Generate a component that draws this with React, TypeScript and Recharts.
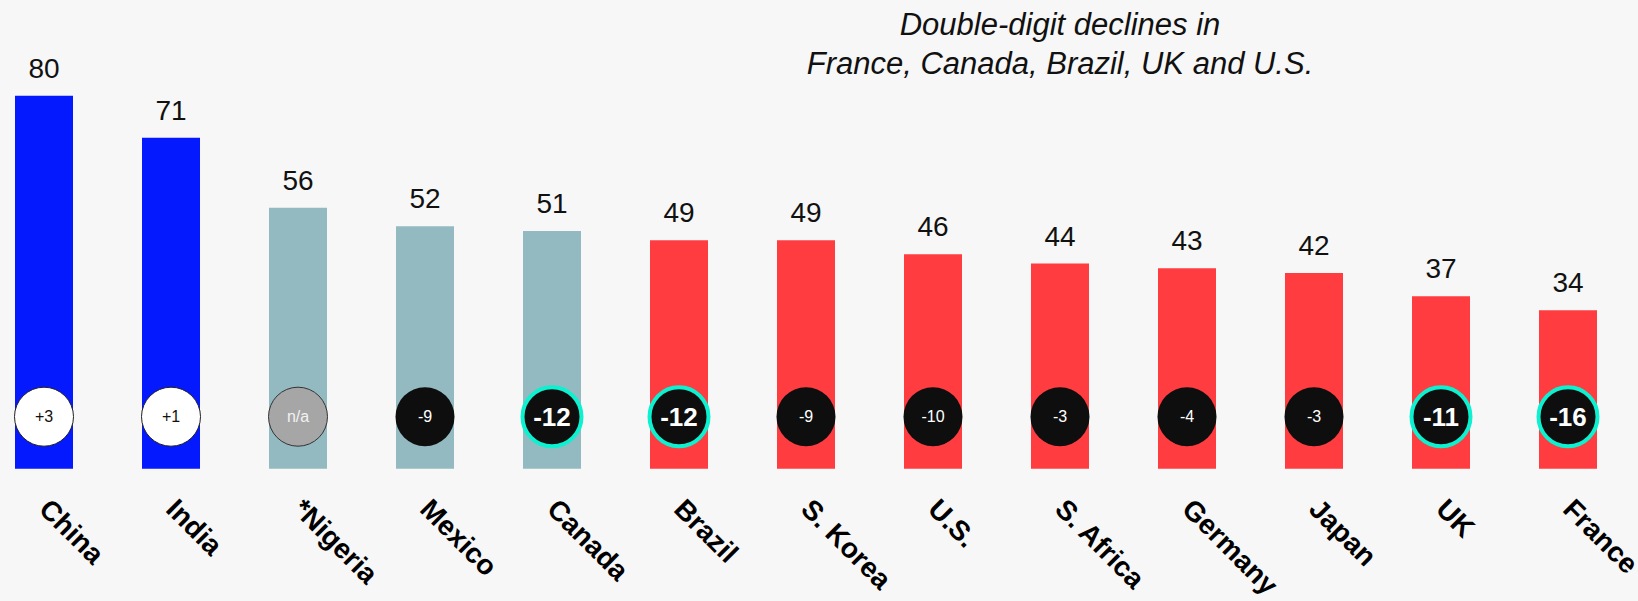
import React from "react";
import { BarChart, Bar, XAxis, YAxis, Cell, LabelList } from "recharts";

const countries = ["China", "India", "*Nigeria", "Mexico", "Canada", "Brazil", "S. Korea", "U.S.", "S. Africa", "Germany", "Japan", "UK", "France"];
const scores = [80, 71, 56, 52, 51, 49, 49, 46, 44, 43, 42, 37, 34];
const changes = ["+3", "+1", "n/a", "-9", "-12", "-12", "-9", "-10", "-3", "-4", "-3", "-11", "-16"];
const groups = ["up", "up", "mid", "mid", "mid", "down", "down", "down", "down", "down", "down", "down", "down"];
const highlighted = [false, false, false, false, true, true, false, false, false, false, false, true, true];
const titleLines = ["Double-digit declines in", "France, Canada, Brazil, UK and U.S."];

const data = countries.map((c, i) => ({ country: c, score: scores[i], change: changes[i], group: groups[i], hl: highlighted[i] }));

const FONT = '"Liberation Sans", Arial, Helvetica, sans-serif';
const groupColor: Record<string, string> = { up: "#0519FF", mid: "#93BAC0", down: "#FF3D41" };
const CYAN = "#0CF2D0";

const TopLabel = (props: any) => {
  const { x, y, width, value } = props;
  return (
    <text x={x + width / 2} y={y - 18} textAnchor="middle" fontSize={28} fontFamily={FONT} fill="#111">
      {value}
    </text>
  );
};

const ChangeBadge = (props: any) => {
  const { x, y, width, height, index } = props;
  const d = data[index];
  const cx = x + width / 2;
  const cy = y + height - 52;
  let fill = "#0E0E0E";
  let stroke = "none";
  let sw = 0;
  let textFill = "#fff";
  let fs = 16;
  let fw: any = "normal";
  if (d.group === "up") {
    fill = "#fff"; stroke = "#222"; sw = 1; textFill = "#111";
  } else if (d.change === "n/a") {
    fill = "#A6A6A6"; stroke = "#333"; sw = 1; textFill = "#F2F2F2";
  }
  if (d.hl) {
    stroke = CYAN; sw = 4; fs = 26; fw = "bold";
  }
  return (
    <g>
      <circle cx={cx} cy={cy} r={29.5} fill={fill} stroke={stroke} strokeWidth={sw} />
      <text x={cx} y={cy + fs * 0.36} textAnchor="middle" fontSize={fs} fontWeight={fw} fontFamily={FONT} fill={textFill}>
        {d.change}
      </text>
    </g>
  );
};

const Tick = (props: any) => {
  const { x, y, payload } = props;
  const tx = x - 6;
  const ty = y + 42;
  return (
    <text x={tx} y={ty} transform={`rotate(45 ${tx} ${ty})`} textAnchor="start" fontSize={28} fontWeight="bold" fontFamily={FONT} fill="#000">
      {payload.value}
    </text>
  );
};

export default function App() {
  return (
    <div style={{ position: "absolute", left: 0, top: 0, width: 1638, height: 601, background: "#F7F7F7", overflow: "hidden" }}>
      <BarChart width={1638} height={601} data={data} margin={{ top: 2.5, right: 7, bottom: 0.3, left: -20 }} barSize={58}>
        <YAxis hide domain={[0, 100]} />
        <XAxis dataKey="country" axisLine={false} tickLine={false} tickSize={0} tickMargin={0} height={132} interval={0} tick={<Tick />} />
        <Bar dataKey="score" isAnimationActive={false}>
          {data.map((d, i) => (
            <Cell key={i} fill={groupColor[d.group]} />
          ))}
          <LabelList dataKey="score" content={<TopLabel />} />
          <LabelList dataKey="change" content={<ChangeBadge />} />
        </Bar>
      </BarChart>
      <div style={{ position: "absolute", left: 760, top: 6.3, width: 600, textAlign: "center", fontFamily: FONT, fontStyle: "italic", fontSize: 31, lineHeight: "38.3px", color: "#111", whiteSpace: "pre" }}>
        {titleLines.map((l, i) => (
          <div key={i}>{l}</div>
        ))}
      </div>
    </div>
  );
}
